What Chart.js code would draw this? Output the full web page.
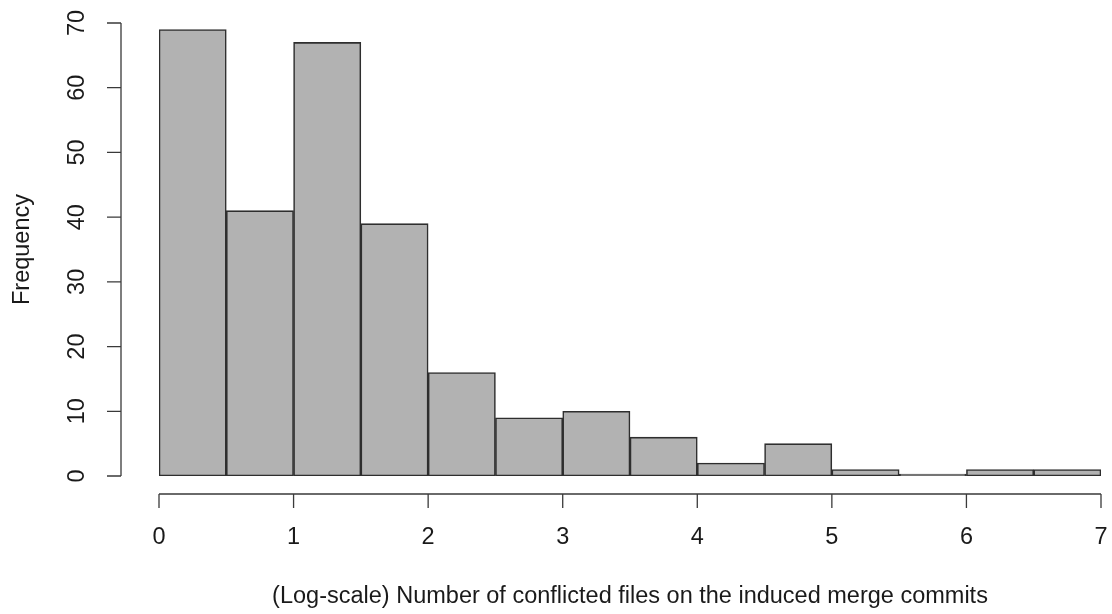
<!DOCTYPE html>
<html>
<head>
<meta charset="utf-8">
<script src="https://cdn.jsdelivr.net/npm/chart.js@4/dist/chart.umd.min.js"></script>
<style>
  html, body { margin: 0; padding: 0; background: #fff; }
  #wrap { width: 1112px; height: 614px; }
</style>
</head>
<body>
<div id="wrap"><canvas id="hist"></canvas></div>
<script>
// histogram bins (log-scale conflicted file counts), width 0.5
const binEdges = [0, 0.5, 1, 1.5, 2, 2.5, 3, 3.5, 4, 4.5, 5, 5.5, 6, 6.5, 7];
const counts = [69, 41, 67, 39, 16, 9, 10, 6, 2, 5, 1, 0, 1, 1];
const xTicks = [0, 1, 2, 3, 4, 5, 6, 7];
const yTicks = [0, 10, 20, 30, 40, 50, 60, 70];
const xTitle = "(Log-scale) Number of conflicted files on the induced merge commits";
const yTitle = "Frequency";

const points = counts.map((c, i) => ({ x: (binEdges[i] + binEdges[i + 1]) / 2, y: c }));

const FONT = '23.5px "Liberation Sans", Arial, sans-serif';

// R style axes: detached from the plot region, drawn with the chart's own scales
const baseAxes = {
    id: 'baseAxes',
    afterDraw(chart) {
        const ctx = chart.ctx;
        const xs = chart.scales.x;
        const ys = chart.scales.y;
        const axisY = ys.getPixelForValue(0) + 18;
        const axisX = xs.getPixelForValue(0) - 38;
        const tick = 14;

        ctx.save();
        ctx.strokeStyle = '#3a3a3a';
        ctx.lineWidth = 1.3;
        ctx.fillStyle = '#1a1a1a';
        ctx.font = FONT;

        // x axis
        ctx.beginPath();
        ctx.moveTo(xs.getPixelForValue(xTicks[0]), axisY);
        ctx.lineTo(xs.getPixelForValue(xTicks[xTicks.length - 1]), axisY);
        xTicks.forEach(v => {
            const px = xs.getPixelForValue(v);
            ctx.moveTo(px, axisY);
            ctx.lineTo(px, axisY + tick);
        });
        ctx.stroke();
        ctx.textAlign = 'center';
        ctx.textBaseline = 'middle';
        xTicks.forEach(v => ctx.fillText(String(v), xs.getPixelForValue(v), axisY + 44));

        // y axis
        ctx.beginPath();
        ctx.moveTo(axisX, ys.getPixelForValue(yTicks[0]));
        ctx.lineTo(axisX, ys.getPixelForValue(yTicks[yTicks.length - 1]));
        yTicks.forEach(v => {
            const py = ys.getPixelForValue(v);
            ctx.moveTo(axisX, py);
            ctx.lineTo(axisX - tick, py);
        });
        ctx.stroke();
        yTicks.forEach(v => {
            ctx.save();
            ctx.translate(axisX - 43, ys.getPixelForValue(v));
            ctx.rotate(-Math.PI / 2);
            ctx.fillText(String(v), 0, 0);
            ctx.restore();
        });

        // titles
        ctx.fillText(xTitle, (xs.left + xs.right) / 2, 597);
        ctx.save();
        ctx.translate(23, (ys.top + ys.bottom) / 2);
        ctx.rotate(-Math.PI / 2);
        ctx.fillText(yTitle, 0, 0);
        ctx.restore();

        ctx.restore();
    }
};

new Chart(document.getElementById('hist'), {
    type: 'bar',
    data: {
        datasets: [{
            data: points,
            backgroundColor: '#b2b2b2',
            borderColor: '#2e2e2e',
            borderWidth: 1.6,
            borderSkipped: false,
            minBarLength: 2, // keeps the empty bin visible as a line
            barPercentage: 1,
            categoryPercentage: 1
        }]
    },
    options: {
        responsive: true,
        maintainAspectRatio: false,
        animation: false,
        layout: { padding: { left: 159, right: 11, top: 23, bottom: 138 } },
        plugins: { legend: { display: false }, tooltip: { enabled: false } },
        scales: {
            x: { type: 'linear', min: 0, max: 7, offset: false, display: false },
            y: { min: 0, max: 70, display: false }
        }
    },
    plugins: [baseAxes]
});
</script>
</body>
</html>
